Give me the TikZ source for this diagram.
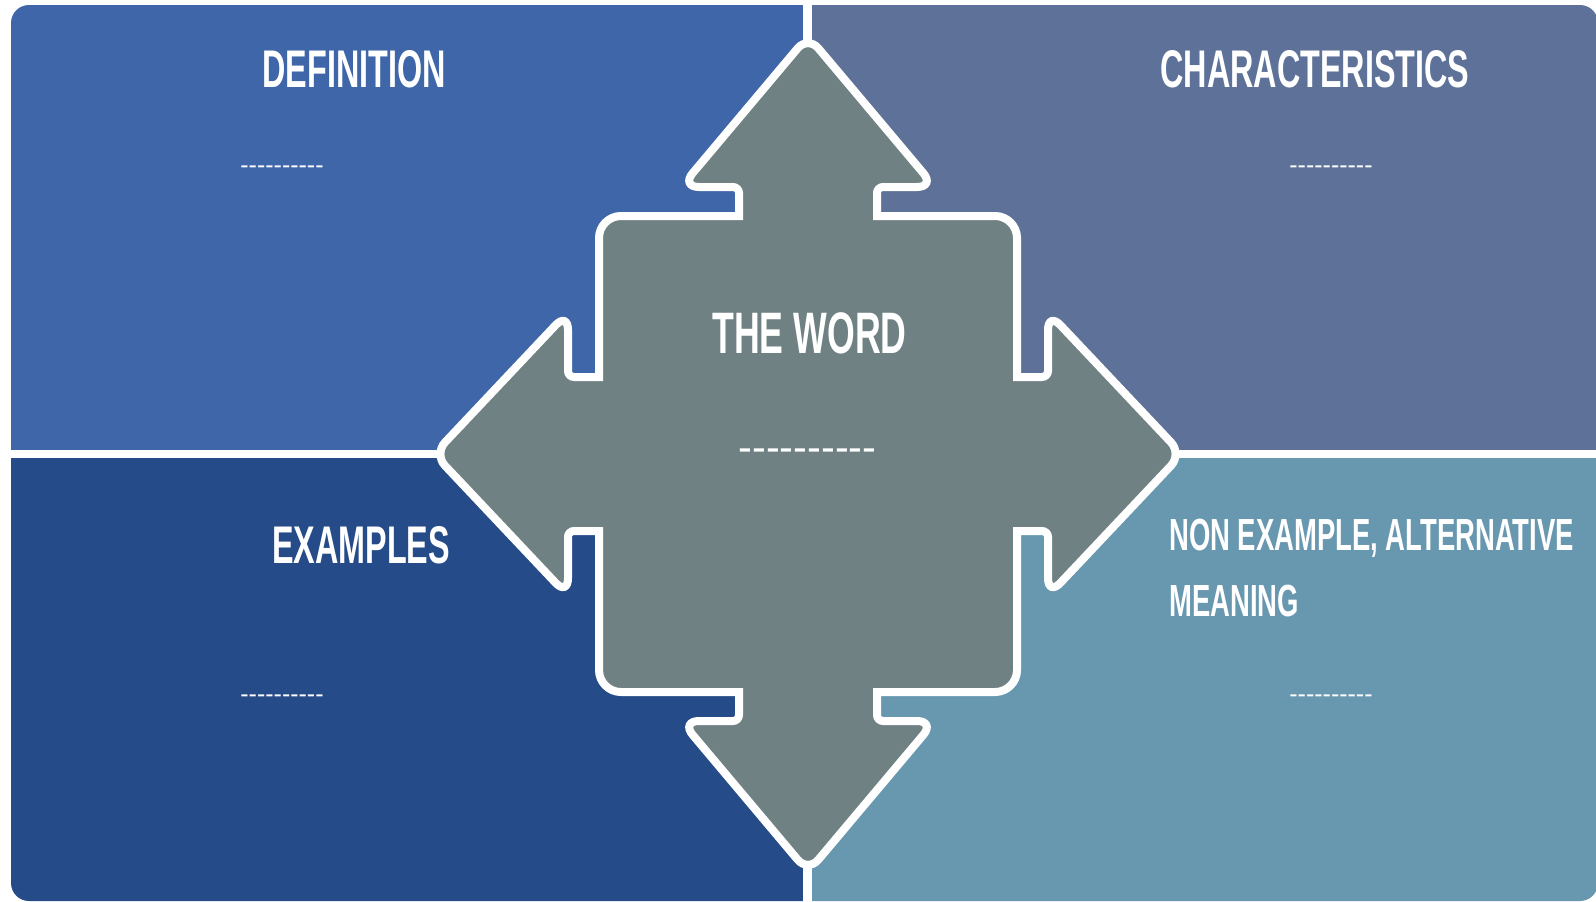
\documentclass[tikz,border=0pt]{standalone}
\usepackage{fontspec}
\setmainfont{Liberation Sans}
\newfontfamily\headfont[FakeStretch=0.61]{Liberation Sans}
\newcommand\blankline{-{}-{}-{}-{}-{}-{}-{}-{}-{}-}
\definecolor{DefBlue}{RGB}{62,102,168}
\definecolor{CharBlue}{RGB}{94,114,153}
\definecolor{ExBlue}{RGB}{37,75,136}
\definecolor{NonBlue}{RGB}{104,151,176}
\definecolor{WordGray}{RGB}{111,129,131}
\tikzset{
    title/.style = {
        font      = \headfont\bfseries\fontsize{53}{60}\selectfont,
        text      = white,
        inner sep = 0pt,
        anchor    = base,
    },
    blank/.style = {
        font      = \fontsize{25}{30}\selectfont,
        text      = white,
        inner sep = 0pt,
        anchor    = base,
    }
}

\begin{document}
\begin{tikzpicture}[x=1pt,y=-1pt]
  \useasboundingbox (0,0) rectangle (1596,902);

  % Quadrantes
  \begin{scope}
    \clip[rounded corners=18pt] (11,5) rectangle (1598,901);
    \fill[DefBlue] (0,0) rectangle (808,454);
    \fill[CharBlue] (808,0) rectangle (1600,454);
    \fill[ExBlue] (0,454) rectangle (808,902);
    \fill[NonBlue] (808,454) rectangle (1600,902);
  \end{scope}
  \draw[white,line width=9pt] (807.5,0) -- (807.5,902);
  \draw[white,line width=8pt] (0,454) -- (1600,454);

  % The word
  \begin{scope}[shift={(808,454)}]
    \filldraw[fill=WordGray,draw=white,line width=8pt]
      (140,-238) [rounded corners=22pt] -- (209,-238) [sharp corners] -- (209,-77)
      [rounded corners=6pt] -- (240,-77) [rounded corners=18pt] -- (240,-142)
      [rounded corners=16pt] -- (374,0) [rounded corners=18pt] -- (240,142)
      [rounded corners=6pt] -- (240,77) [sharp corners] -- (209,77)
      [rounded corners=22pt] -- (209,238) [sharp corners] -- (69,238)
      [rounded corners=6pt] -- (69,267) [rounded corners=18pt] -- (127,267)
      [rounded corners=16pt] -- (0,418) [rounded corners=18pt] -- (-127,267)
      [rounded corners=6pt] -- (-69,267) [sharp corners] -- (-69,238)
      [rounded corners=22pt] -- (-209,238) [sharp corners] -- (-209,77)
      [rounded corners=6pt] -- (-240,77) [rounded corners=18pt] -- (-240,142)
      [rounded corners=16pt] -- (-374,0) [rounded corners=18pt] -- (-240,-142)
      [rounded corners=6pt] -- (-240,-77) [sharp corners] -- (-209,-77)
      [rounded corners=22pt] -- (-209,-238) [sharp corners] -- (-69,-238)
      [rounded corners=6pt] -- (-69,-267) [rounded corners=18pt] -- (-127,-267)
      [rounded corners=16pt] -- (0,-418) [rounded corners=18pt] -- (127,-267)
      [rounded corners=6pt] -- (69,-267) [sharp corners] -- (69,-238) -- cycle;
  \end{scope}

  % Textos
  \node[title] (Definition) at (354,87) {DEFINITION};
  \node[title] (Characteristics) at (1315,87) {CHARACTERISTICS};
  \node[title,font=\headfont\bfseries\fontsize{58.5}{64}\selectfont] (TheWord) at (809.5,353) {THE WORD};
  \node[title] (Examples) at (361,563) {EXAMPLES};
  \node[title,anchor=base west,font=\headfont\bfseries\fontsize{45}{50}\selectfont] (NonExample) at (1169,550) {NON EXAMPLE, ALTERNATIVE};
  \node[title,anchor=base west,font=\headfont\bfseries\fontsize{45}{50}\selectfont] (Meaning) at (1169,616) {MEANING};

  % Lacunas
  \node[blank] (DefBlank) at (282,173) {\blankline};
  \node[blank] (CharBlank) at (1331,173) {\blankline};
  \node[blank,font=\fontsize{41.5}{45}\selectfont] (WordBlank) at (807.5,461) {\blankline};
  \node[blank] (ExBlank) at (282,702) {\blankline};
  \node[blank] (NonBlank) at (1331,702) {\blankline};

\end{tikzpicture}
\end{document}
